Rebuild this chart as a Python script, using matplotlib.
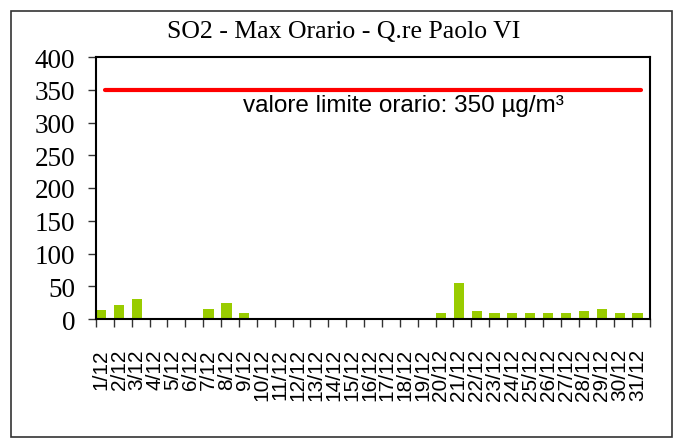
import numpy as np
import matplotlib.pyplot as plt
from matplotlib.patches import Rectangle

# data
days = [f"{d}/12" for d in range(1, 32)]
so2_max = [13, 21, 31, 0, 0, 0, 15, 24, 9, 0, 0, 0, 0, 0, 0, 0, 0, 0, 0,
           9, 55, 12, 9, 9, 9, 9, 9, 12, 15, 9, 9]
limit = [350] * 31

fig = plt.figure(figsize=(6.77, 4.39), dpi=100)
ax = fig.add_axes([96 / 677, 1 - 320 / 439, (650 - 96) / 677, (320 - 58) / 439])

x = np.arange(len(days))
ax.bar(x + 0.3, so2_max, width=0.57, color="#99cc00", zorder=2)
ax.plot(x + 0.5, limit, color="#ff0000", lw=3, solid_capstyle="round", zorder=3)

ax.text(8.2, 343, "valore limite orario: 350 µg/m³", fontsize=17.5,
        family="Liberation Sans", va="top", ha="left")

ax.set_xlim(0, 31)
ax.set_ylim(0, 400)
ax.set_yticks(np.arange(0, 401, 50))
ax.set_yticklabels([str(v) for v in range(0, 401, 50)], family="Liberation Serif", fontsize=19.5)
ax.tick_params(axis="y", direction="out", length=6, width=1, pad=9, color="#333333")

ax.set_xticks(x + 0.3)
ax.set_xticklabels(days, rotation=90, family="Liberation Sans", fontsize=15, va="top")
ax.set_xticks(np.arange(0, 32), minor=True)
ax.tick_params(axis="x", which="major", length=0, pad=21)
ax.tick_params(axis="x", which="minor", direction="out", length=6, width=1, color="#333333")

for s in ax.spines.values():
    s.set_linewidth(1.5)
    s.set_color("black")

fig.text(344 / 677, 1 - 32 / 439, "SO2 - Max Orario - Q.re Paolo VI",
         family="Liberation Serif", fontsize=18.5, ha="center", va="center")

# outer frame
fig.patches.append(Rectangle((11 / 677, 1 - 438 / 439), 661 / 677, 426 / 439,
                             transform=fig.transFigure, fill=False,
                             edgecolor="#333333", lw=1.2))

fig.savefig("out.png", dpi=100)
